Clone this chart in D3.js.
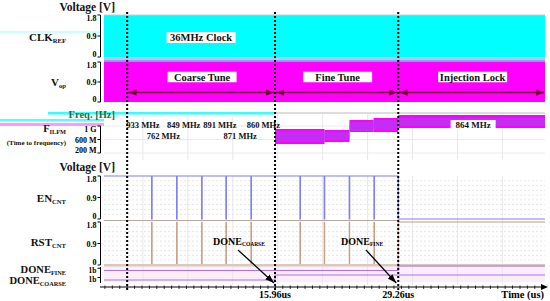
<!DOCTYPE html>
<html><head><meta charset="utf-8">
<script src="https://cdn.jsdelivr.net/npm/d3@7"></script>
<style>
html,body{margin:0;padding:0;background:#fff;}
text{font-family:"Liberation Serif","Times New Roman",serif;font-weight:bold;}
</style></head>
<body><svg id="c" width="550" height="301"></svg>
<script>
// ---------------- data ----------------
const timeDomain = [-2.5, 45.1];               // us
const phaseBounds = [0, 15.96, 29.26, 45.1];   // us
const phaseNames = ["Coarse Tune", "Fine Tune", "Injection Lock"];
const markerLabels = ["15.96us", "29.26us"];
const voltTicks = [0, 0.9, 1.8];
const voltTickLabels = ["0", "0.9", "1.8"];
const freqTicks = [200, 600, 1000];            // MHz
const freqTickLabels = ["200 M", "600 M", "1 G"];
const enPulses = [2.64, 5.34, 8.04, 10.66, 13.36, 18.65, 21.27, 23.97, 26.64]; // us
const coarseTimes = [1.7, 3.9, 6.1, 10.0, 12.2, 14.7];
const coarseFreqs = [933, 762, 849, 891, 871, 860];   // MHz
const coarseRows  = [0, 1, 0, 0, 1, 0];
const bandTimes = [15.96, 21.3, 24.0, 26.6, 29.26, 45.1];
const bandHigh  = [911, 881, 1178, 1237, 1326];
const bandLow   = [467, 526, 822, 822, 941];
const innerHigh = [852, 822, 1118, 1178, 1237];
const innerLow  = [526, 585, 852, 881, 1000];
const lockFreq = 864;
const clockLabel = "36MHz Clock";
const gridTimes = [1.7, 6.55, 11.4, 16.25, 21.1, 25.95, 30.8, 35.65, 40.5];

// ---------------- scales ----------------
const svg = d3.select("#c");
const X0 = 104, X1 = 545;
const x = d3.scaleLinear().domain(timeDomain).range([X0, X1]);
const yClk = d3.scaleLinear().domain([0, 1.8]).range([57, 15]);
const yVop = d3.scaleLinear().domain([0, 1.8]).range([102, 62]);
const yFreq = d3.scaleLinear().domain([200, 1000]).range([153, 126]);
const yEn = d3.scaleLinear().domain([0, 1.8]).range([219, 176]);
const yRst = d3.scaleLinear().domain([0, 1.8]).range([265, 222]);
const yDoneF = d3.scaleLinear().domain([0, 1]).range([270.5, 266]);
const yDoneC = d3.scaleLinear().domain([0, 1]).range([280, 275]);

svg.append("rect").attr("width", 550).attr("height", 301).attr("fill", "#fff");

// artifacts / stripes
svg.append("rect").attr("x", 0).attr("y", 31.5).attr("width", 100).attr("height", 1).attr("fill", "#9ff");
svg.append("rect").attr("x", 48).attr("y", 112).attr("width", x(15.96) - 48).attr("height", 2.5).attr("fill", "#3ff");
svg.append("rect").attr("x", 0).attr("y", 119).attr("width", 104).attr("height", 2.5).attr("fill", "#5ff");
svg.append("rect").attr("x", 0).attr("y", 123).attr("width", 104).attr("height", 3).attr("fill", "#f9f");
svg.append("line").attr("x1", x(15.96)).attr("x2", X1).attr("y1", 113).attr("y2", 113).attr("stroke", "#bbb");

// light backgrounds for DONE rows
svg.append("rect").attr("x", X0).attr("y", 266).attr("width", X1 - X0).attr("height", 16).attr("fill", "#fbeefb");

// grids
const gridG = svg.append("g");
[yEn, yRst].forEach(s => {
  d3.range(0.2, 1.8, 0.2).forEach(v => {
    gridG.append("line").attr("x1", X0).attr("x2", X1).attr("y1", s(v)).attr("y2", s(v))
      .attr("stroke", "#ddd").attr("stroke-dasharray", "2,2").attr("stroke-width", 0.7);
  });
});
gridTimes.forEach(t => {
  gridG.append("line").attr("x1", x(t)).attr("x2", x(t)).attr("y1", 114).attr("y2", 160)
    .attr("stroke", "#e2e2e2").attr("stroke-width", 0.8);
  gridG.append("line").attr("x1", x(t)).attr("x2", x(t)).attr("y1", 176).attr("y2", 285)
    .attr("stroke", "#e2e2e2").attr("stroke-width", 0.8);
});
freqTicks.forEach(f => {
  gridG.append("line").attr("x1", X0).attr("x2", X1).attr("y1", yFreq(f)).attr("y2", yFreq(f))
    .attr("stroke", "#e6e6e6").attr("stroke-width", 0.8);
});

// CLK and Vop fills
svg.append("rect").attr("x", X0).attr("y", yClk(1.8)).attr("width", X1 - X0).attr("height", yClk(0) - yClk(1.8)).attr("fill", "#00ffff");
svg.append("line").attr("x1", X0).attr("x2", X1).attr("y1", yClk(1.8)).attr("y2", yClk(1.8)).attr("stroke", "#ccc");
svg.append("rect").attr("x", X0).attr("y", 57).attr("width", X1 - X0).attr("height", 3).attr("fill", "#b4c4f0");
svg.append("rect").attr("x", X0).attr("y", 60.3).attr("width", X1 - X0).attr("height", 1.5).attr("fill", "#6a7cf0");
svg.append("rect").attr("x", X0).attr("y", yVop(1.8)).attr("width", X1 - X0).attr("height", yVop(0) - yVop(1.8)).attr("fill", "#ff00ff");

// frequency bands
const segs = d3.range(bandHigh.length);
svg.append("g").selectAll("rect").data(segs).join("rect")
  .attr("x", i => x(bandTimes[i])).attr("width", i => x(bandTimes[i + 1]) - x(bandTimes[i]))
  .attr("y", i => yFreq(bandHigh[i])).attr("height", i => yFreq(bandLow[i]) - yFreq(bandHigh[i]))
  .attr("fill", "#ff00ff");
svg.append("g").selectAll("rect").data(segs).join("rect")
  .attr("x", i => x(bandTimes[i])).attr("width", i => x(bandTimes[i + 1]) - x(bandTimes[i]))
  .attr("y", i => yFreq(innerHigh[i])).attr("height", i => yFreq(innerLow[i]) - yFreq(innerHigh[i]))
  .attr("fill", "#b03cf0").attr("opacity", 0.75);

// EN waveform
const enPath = [[timeDomain[0], 1.8]];
enPulses.forEach(t => { enPath.push([t, 1.8], [t, 0], [t + 0.05, 0], [t + 0.05, 1.8]); });
enPath.push([phaseBounds[2], 1.8], [phaseBounds[2], 0], [timeDomain[1], 0]);
svg.append("path").attr("d", d3.line().x(d => x(d[0])).y(d => yEn(d[1]))(enPath))
  .attr("fill", "none").attr("stroke", "#8080ee").attr("stroke-width", 1.2);
svg.append("line").attr("x1", X0).attr("x2", x(phaseBounds[2])).attr("y1", 220.5).attr("y2", 220.5)
  .attr("stroke", "#b8a8a0").attr("stroke-width", 1);

// RST waveform
const rstPath = [[timeDomain[0], 0]];
enPulses.forEach(t => { rstPath.push([t, 0], [t, 1.8], [t + 0.05, 1.8], [t + 0.05, 0]); });
rstPath.push([phaseBounds[2], 0], [phaseBounds[2], 1.8], [timeDomain[1], 1.8]);
svg.append("path").attr("d", d3.line().x(d => x(d[0])).y(d => yRst(d[1]))(rstPath))
  .attr("fill", "none").attr("stroke", "#c89a80").attr("stroke-width", 1);
svg.append("rect").attr("x", X0).attr("y", 264).attr("width", X1 - X0).attr("height", 2.5).attr("fill", "#dcc8bc");

// DONE waveforms
const doneF = [[timeDomain[0], 0], [phaseBounds[2], 0], [phaseBounds[2], 1], [timeDomain[1], 1]];
const doneC = [[timeDomain[0], 0], [phaseBounds[1], 0], [phaseBounds[1], 1], [timeDomain[1], 1]];
svg.append("path").attr("d", d3.line().x(d => x(d[0])).y(d => yDoneF(d[1]))(doneF))
  .attr("fill", "none").attr("stroke", "#b070e8").attr("stroke-width", 1.2);
svg.append("path").attr("d", d3.line().x(d => x(d[0])).y(d => yDoneC(d[1]))(doneC))
  .attr("fill", "none").attr("stroke", "#b070e8").attr("stroke-width", 1.2);

// time axis
const axY = 287;
svg.append("line").attr("x1", 100).attr("x2", X1).attr("y1", axY).attr("y2", axY).attr("stroke", "#000").attr("stroke-width", 1);
svg.append("path").attr("d", `M${X1 + 3},${axY} L${X1 - 4},${axY - 3} L${X1 - 4},${axY + 3} Z`).attr("fill", "#000");
d3.range(-2.4, 44.5, 0.8).forEach(t => {
  svg.append("line").attr("x1", x(t)).attr("x2", x(t)).attr("y1", axY - 1.5).attr("y2", axY + 2).attr("stroke", "#000").attr("stroke-width", 0.8);
});

// left axes
const axisX = 100.5;
function vAxis(scale, ticks, labels, top, bottom) {
  svg.append("line").attr("x1", axisX).attr("x2", axisX).attr("y1", top).attr("y2", bottom).attr("stroke", "#000").attr("stroke-width", 1);
  ticks.forEach((t, i) => {
    const yy = scale(t);
    const off = i === 0 ? -0.5 : (i === ticks.length - 1 ? 5.5 : 3);
    svg.append("line").attr("x1", axisX - 3).attr("x2", axisX).attr("y1", yy).attr("y2", yy).attr("stroke", "#000");
    svg.append("text").attr("x", axisX - 4).attr("y", yy + off).attr("text-anchor", "end").attr("font-size", 8).text(labels[i]);
  });
}
vAxis(yClk, voltTicks, voltTickLabels, yClk(1.8), yClk(0));
vAxis(yVop, voltTicks, voltTickLabels, yVop(1.8), yVop(0));
vAxis(yFreq, freqTicks, freqTickLabels, yFreq(1000), yFreq(200));
vAxis(yEn, voltTicks, voltTickLabels, yEn(1.8), yEn(0));
vAxis(yRst, voltTicks, voltTickLabels, yRst(1.8), yRst(0));
svg.append("line").attr("x1", axisX).attr("x2", axisX).attr("y1", 267).attr("y2", 283).attr("stroke", "#000");
[[yDoneF(0.5), "1b", 5], [yDoneC(0.5), "1b", 4]].forEach(([yy, l, o]) => {
  svg.append("line").attr("x1", axisX - 3).attr("x2", axisX).attr("y1", yy).attr("y2", yy).attr("stroke", "#000");
  svg.append("text").attr("x", axisX - 4).attr("y", yy + o).attr("text-anchor", "end").attr("font-size", 7.5).text(l);
});

// phase boxes
const pc = i => (x(phaseBounds[i]) + x(phaseBounds[i + 1])) / 2;
function box(cx, cy, w, h, txt, fs) {
  svg.append("rect").attr("x", cx - w / 2).attr("y", cy - h / 2).attr("width", w).attr("height", h).attr("fill", "#fff");
  svg.append("text").attr("x", cx).attr("y", cy + fs * 0.35).attr("text-anchor", "middle").attr("font-size", fs).attr("fill", "#111").text(txt);
}
box(pc(0), 37.5, 69, 11, clockLabel, 10.5);
phaseNames.forEach((n, i) => box(pc(i) + 1, 77, 69, 10.5, n, 10.5));
box(pc(2) + 1.5, 125, 45, 10, lockFreq + " MHz", 9);

// double arrows in Vop
const defs = svg.append("defs");
defs.append("marker").attr("id", "ah").attr("viewBox", "0 0 10 10").attr("refX", 10).attr("refY", 5)
  .attr("markerWidth", 6).attr("markerHeight", 6).attr("orient", "auto-start-reverse")
  .append("path").attr("d", "M0,1 L10,5 L0,9 Z").attr("fill", "#7a003a");
defs.append("marker").attr("id", "bh").attr("viewBox", "0 0 10 10").attr("refX", 10).attr("refY", 5)
  .attr("markerWidth", 7).attr("markerHeight", 7).attr("orient", "auto")
  .append("path").attr("d", "M0,1.5 L10,5 L0,8.5 Z").attr("fill", "#000");
d3.range(3).forEach(i => {
  svg.append("line").attr("x1", x(phaseBounds[i]) + 1).attr("x2", x(phaseBounds[i + 1]) - 1)
    .attr("y1", 92.5).attr("y2", 92.5).attr("stroke", "#7a003a").attr("stroke-width", 1.4)
    .attr("marker-start", "url(#ah)").attr("marker-end", "url(#ah)");
});

// coarse frequency labels
coarseTimes.forEach((t, i) => {
  svg.append("text").attr("x", x(t)).attr("y", coarseRows[i] ? 139 : 127.5).attr("text-anchor", "middle")
    .attr("font-size", 8.5).attr("fill", "#111").text(coarseFreqs[i] + " MHz");
});

// dashed vertical markers
phaseBounds.slice(0, 3).forEach(t => {
  svg.append("line").attr("x1", x(t)).attr("x2", x(t)).attr("y1", 12).attr("y2", 290)
    .attr("stroke", "#000").attr("stroke-width", 2).attr("stroke-dasharray", "2,2");
});

// DONE annotations
function ann(tx, ty, main, sub, ax1, ay1, ax2, ay2) {
  const t = svg.append("text").attr("x", tx).attr("y", ty).attr("font-size", 10);
  t.append("tspan").text(main);
  t.append("tspan").attr("font-size", 5.5).attr("dy", 1).text(sub);
  svg.append("line").attr("x1", ax1).attr("y1", ay1).attr("x2", ax2).attr("y2", ay2)
    .attr("stroke", "#000").attr("stroke-width", 1.3).attr("marker-end", "url(#bh)");
}
ann(213, 245, "DONE", "COARSE", 238, 250, x(phaseBounds[1]) - 1, 283);
ann(341, 245, "DONE", "FINE", 366, 250, x(phaseBounds[2]) - 2, 283);

// time labels
markerLabels.forEach((l, i) => {
  svg.append("text").attr("x", x(phaseBounds[i + 1])).attr("y", 298).attr("text-anchor", "middle").attr("font-size", 10).text(l);
});
svg.append("text").attr("x", 544).attr("y", 298).attr("text-anchor", "end").attr("font-size", 10.5).text("Time (us)");

// left labels
function lab(xr, yb, main, sub, fs, fill) {
  const t = svg.append("text").attr("x", xr).attr("y", yb).attr("text-anchor", "end").attr("font-size", fs).attr("fill", fill || "#111");
  t.append("tspan").text(main);
  if (sub) t.append("tspan").attr("font-size", fs * 0.6).attr("dy", 1.5).text(sub);
}
lab(115, 11, "Voltage [V]", null, 11.5);
lab(66, 41, "CLK", "REF", 11);
lab(66, 86, "V", "op", 11);
lab(115, 118, "Freq. [Hz]", null, 10.5, "#1f6e3c");
lab(66, 132, "F", "ILFM", 10.5);
lab(66, 145, "(Time to frequency)", null, 7);
lab(115, 171, "Voltage [V]", null, 11.5);
lab(66, 202, "EN", "CNT", 11);
lab(66, 246, "RST", "CNT", 11);
lab(66, 273, "DONE", "FINE", 10.5);
lab(66, 284, "DONE", "COARSE", 10.5);
</script></body></html>
